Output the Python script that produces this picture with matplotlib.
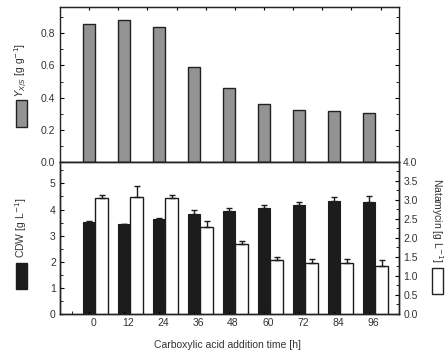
import matplotlib
matplotlib.use("Agg")
import matplotlib.pyplot as plt
import matplotlib.transforms as mtransforms
import numpy as np
from matplotlib.patches import Rectangle
from matplotlib.ticker import MultipleLocator, FixedLocator, FormatStrFormatter

# data
times = [0, 12, 24, 36, 48, 60, 72, 84, 96]
yield_xs = [0.857, 0.884, 0.84, 0.592, 0.461, 0.36, 0.325, 0.317, 0.304]
cdw = [3.51, 3.45, 3.62, 3.83, 3.93, 4.04, 4.17, 4.33, 4.27]
cdw_err = [0.05, 0.0, 0.05, 0.16, 0.11, 0.13, 0.10, 0.16, 0.23]
natamycin = [3.05, 3.09, 3.05, 2.28, 1.85, 1.43, 1.35, 1.35, 1.25]
natamycin_err = [0.09, 0.28, 0.09, 0.16, 0.08, 0.08, 0.09, 0.09, 0.18]

TXT = "#333333"
EDGE = "#222222"
FS = 7.5
BW = 4.3
XLIM = (-10.0, 106.3)
plt.rcParams["font.family"] = ["Liberation Sans", "DejaVu Sans"]
plt.rcParams["font.size"] = FS
plt.rcParams["text.color"] = TXT

fig = plt.figure(figsize=(4.46, 3.55), dpi=100)
left, right = 0.1345, 0.8946
ax_top = fig.add_axes([left, 0.5437, right - left, 0.980 - 0.5437])
ax_bot = fig.add_axes([left, 0.1155, right - left, 0.5437 - 0.1155])
ax_nat = ax_bot.twinx()

x = np.array(times, dtype=float)
minor_x = [t + 6 for t in [-12] + times]

# ── top panel: yield ────────────────────────────────────────────────────────
ax_top.bar(x, yield_xs, width=BW, color="#939393", edgecolor=EDGE, lw=1.0)
ax_top.set_xlim(*XLIM)
ax_top.set_ylim(0, 0.963)
ax_top.yaxis.set_major_locator(MultipleLocator(0.2))
ax_top.yaxis.set_minor_locator(MultipleLocator(0.1))
ax_top.yaxis.set_major_formatter(FormatStrFormatter("%.1f"))
ax_top.xaxis.set_major_locator(FixedLocator(times))
ax_top.xaxis.set_minor_locator(FixedLocator(minor_x))
ax_top.tick_params(axis="x", which="both", direction="out", length=2.5,
                   labelbottom=False)
ax_top.tick_params(axis="y", which="both", direction="in", right=True,
                   labelright=False, labelcolor=TXT)
ax_top.tick_params(axis="y", which="major", length=3)
ax_top.tick_params(axis="y", which="minor", length=2)
sec = ax_top.secondary_xaxis("top")
sec.set_xticks(range(0, 101, 10))
sec.tick_params(direction="in", length=2.5, labeltop=False)

# ── bottom panel: CDW (left) and natamycin (right) ─────────────────────────
ax_bot.bar(x, cdw, width=BW, color="#1c1c1c", edgecolor="#1c1c1c", lw=0.8,
           yerr=[np.zeros(len(cdw)), cdw_err], capsize=2.5,
           error_kw=dict(ecolor="#1c1c1c", elinewidth=1.0, capthick=1.0))
ax_nat.bar(x + BW, natamycin, width=BW, color="white", edgecolor="#1c1c1c",
           lw=1.0, yerr=[np.zeros(len(natamycin)), natamycin_err], capsize=2.5,
           error_kw=dict(ecolor="#1c1c1c", elinewidth=1.0, capthick=1.0))
ax_bot.set_xlim(*XLIM)
ax_bot.set_ylim(0, 5.82)
ax_nat.set_ylim(0, 4.0)
ax_bot.yaxis.set_major_locator(MultipleLocator(1))
ax_bot.yaxis.set_minor_locator(MultipleLocator(0.5))
ax_nat.yaxis.set_major_locator(MultipleLocator(0.5))
ax_nat.yaxis.set_minor_locator(MultipleLocator(0.25))
ax_nat.yaxis.set_major_formatter(FormatStrFormatter("%.1f"))
ax_bot.set_xticks(times)
ax_bot.set_xticklabels([str(t) for t in times])
ax_bot.xaxis.set_minor_locator(FixedLocator(minor_x))
for a in (ax_bot, ax_nat):
    a.tick_params(which="both", direction="in", labelcolor=TXT, pad=3)
    a.tick_params(which="major", length=3)
    a.tick_params(which="minor", length=2)
ax_bot.tick_params(axis="x", which="both", length=2.5)

# the x tick labels sit a few pixels right of their ticks in the reference
shift = mtransforms.ScaledTranslation(4 / 100, 0, fig.dpi_scale_trans)
for lab in ax_bot.get_xticklabels():
    lab.set_transform(lab.get_transform() + shift)

for a in (ax_top, ax_bot, ax_nat):
    for s in a.spines.values():
        s.set_linewidth(1.0)
        s.set_color(EDGE)

# ── axis captions with legend boxes ────────────────────────────────────────
fig.text(0.047, 0.803, r"$Y_{X/S}$ [g g$^{-1}$]", rotation=90,
         ha="center", va="center", fontsize=FS)
fig.add_artist(Rectangle((0.036, 0.642), 0.0247, 0.076, transform=fig.transFigure,
                         facecolor="#939393", edgecolor=EDGE, lw=1.0))
fig.text(0.047, 0.358, r"CDW [g L$^{-1}$]", rotation=90,
         ha="center", va="center", fontsize=FS)
fig.add_artist(Rectangle((0.036, 0.186), 0.0247, 0.073, transform=fig.transFigure,
                         facecolor="#1c1c1c", edgecolor="#1c1c1c", lw=1.0))
fig.text(0.98, 0.379, r"Natamycin [g L$^{-1}$]", rotation=270,
         ha="center", va="center", fontsize=FS)
fig.add_artist(Rectangle((0.9686, 0.172), 0.0247, 0.073, transform=fig.transFigure,
                         facecolor="white", edgecolor=EDGE, lw=1.0))
fig.text(0.509, 0.028, "Carboxylic acid addition time [h]",
         ha="center", va="center", fontsize=FS)

fig.savefig("out.png", dpi=100)
